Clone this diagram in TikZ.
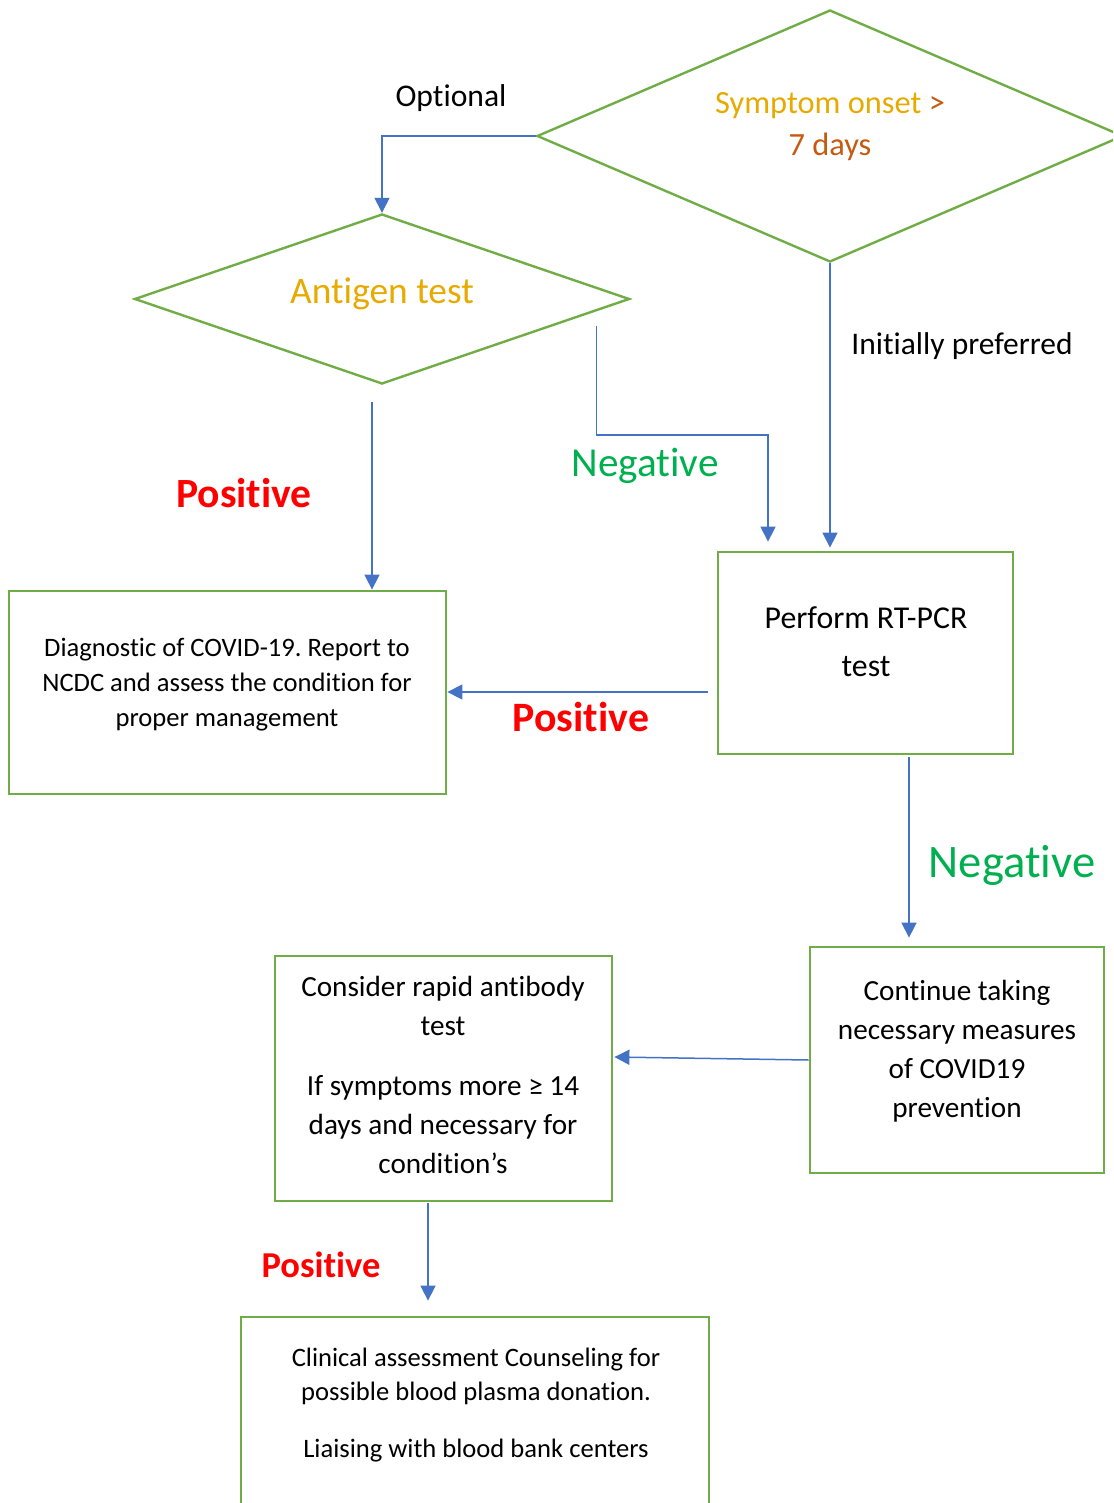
\documentclass[tikz,border=0pt]{standalone}
\usepackage{fontspec}
\setmainfont{Carlito}[RawFeature={-liga;-clig;-calt;-dlig}]
\usepackage{tikz}
\usetikzlibrary{arrows.meta,calc,positioning,shapes.geometric}
\frenchspacing

\definecolor{boxgreen}{HTML}{70AD47}
\definecolor{linkblue}{HTML}{4472C4}
\definecolor{onsetgold}{HTML}{E6AA00}
\definecolor{onsetbrown}{HTML}{C55A11}
\definecolor{posred}{HTML}{FF0000}
\definecolor{neggreen}{HTML}{00B050}

\tikzset{
	box/.style={draw=boxgreen, line width=1.4pt, inner sep=0pt},
	decision/.style={diamond, draw=boxgreen, line width=1.2pt, inner sep=0pt},
	arr/.style={draw=linkblue, line width=0.75pt, -{Triangle[length=7.5pt,width=7.5pt]}},
	boxtext/.style={align=center, inner sep=0pt}
}

\begin{document}
\begin{tikzpicture}[x=0.5pt, y=-0.5pt]
		\useasboundingbox (0,0) rectangle (1113,1503);
		\clip (0,0) rectangle (1113,1503);
		
		% decisions
		\node[decision, minimum width=293pt, minimum height=126pt] (onset) at (830,136) {};
		\node[boxtext, font=\fontsize{16.2}{21}\selectfont] (onsettxt) at (830,127)
		{\textcolor{onsetgold}{Symptom onset} \textcolor{onsetbrown}{>}\\ \textcolor{onsetbrown}{7 days}};
		\node[decision, minimum width=247.5pt, minimum height=85pt] (antigen) at (382,299) {};
		\node[boxtext, font=\fontsize{18.7}{22}\selectfont, text=onsetgold] (antigentxt) at (382,294) {Antigen test};
		
		% boxes
		\node[box, minimum width=218.5pt, minimum height=101.5pt] (diag) at (227.5,692.5) {};
		\node[boxtext, font=\fontsize{13.3}{17.5}\selectfont] (diagtxt) at (227,685)
		{Diagnostic of COVID-19. Report to\\ NCDC and assess the condition for\\ proper management};
		\node[box, minimum width=147.5pt, minimum height=101pt] (pcr) at (865.5,653) {};
		\node[boxtext, font=\fontsize{15.9}{24}\selectfont] (pcrtxt) at (866,642) {Perform RT-PCR\\ test};
		\node[box, minimum width=147pt, minimum height=113pt] (cont) at (957,1060) {};
		\node[boxtext, font=\fontsize{14.6}{19.5}\selectfont] (conttxt) at (957,1051)
		{Continue taking\\ necessary measures\\ of COVID19\\ prevention};
		\node[box, minimum width=168.5pt, minimum height=122.5pt] (cons) at (443.5,1078.5) {};
		\node[boxtext, font=\fontsize{14.6}{19.5}\selectfont] (constxt) at (443,1075)
		{Consider rapid antibody\\ test\\[10.5pt] If symptoms more ≥ 14\\ days and necessary for\\ condition’s};
		\node[box, minimum width=234pt, minimum height=120pt] (clin) at (475,1437) {};
		\node[boxtext, font=\fontsize{13.3}{17}\selectfont] (clintxt) at (476,1405)
		{Clinical assessment Counseling for\\ possible blood plasma donation.\\[11.5pt] Liaising with blood bank centers};
		
		% free ends of connectors
		\coordinate (negtop) at ($(antigen.east)+(-34,27)$);
		\coordinate (postop) at ($(antigen.south)+(-10,17)$);
		\coordinate (pcrleft) at ($(pcr.west)+(-9,39)$);
		\coordinate (pcrbot) at ($(pcr.south)+(43.5,2)$);
		\coordinate (consbot) at ($(cons.south)+(-15.5,1)$);
		
		% connectors
		\draw[arr] (onset.west) -| (antigen.north);
		\draw[arr] (onset.south) -- ($(onset.south |- pcr.north)+(0,-3)$);
		\draw[arr] (negtop) -- ++(0,109) -| ($(pcr.north)+(-97.5,-9)$);
		\draw[arr] (postop) -- (postop |- diag.north);
		\draw[arr] (pcrleft) -- (diag.east |- pcrleft);
		\draw[arr] (pcrbot) -- ($(pcrbot |- cont.north)+(0,-8)$);
		\draw[arr] (cont.west) -- ($(cons.east)+(1,-21.5)$);
		\draw[arr] (consbot) -- ($(consbot |- clin.north)+(0,-15)$);
		
		% labels
		\node[font=\fontsize{15.8}{19}\selectfont] (optlbl) at (451,98) {Optional};
		\node[font=\fontsize{15.75}{19}\selectfont] (preflbl) at (962,346) {Initially preferred};
		\node[font=\fontsize{20.6}{24}\selectfont, text=neggreen] (neglbla) at (645,466) {Negative};
		\node[font=\bfseries\fontsize{20.8}{24}\selectfont, text=posred] (poslbla) at (244,493) {Positive};
		\node[font=\bfseries\fontsize{20.9}{24}\selectfont, text=posred] (poslblb) at (581,717) {Positive};
		\node[font=\fontsize{23.3}{27}\selectfont, text=neggreen] (neglblb) at (1012,865) {Negative};
		\node[font=\bfseries\fontsize{18.25}{22}\selectfont, text=posred] (poslblc) at (321,1265) {Positive};
		\end{tikzpicture}
\end{document}
